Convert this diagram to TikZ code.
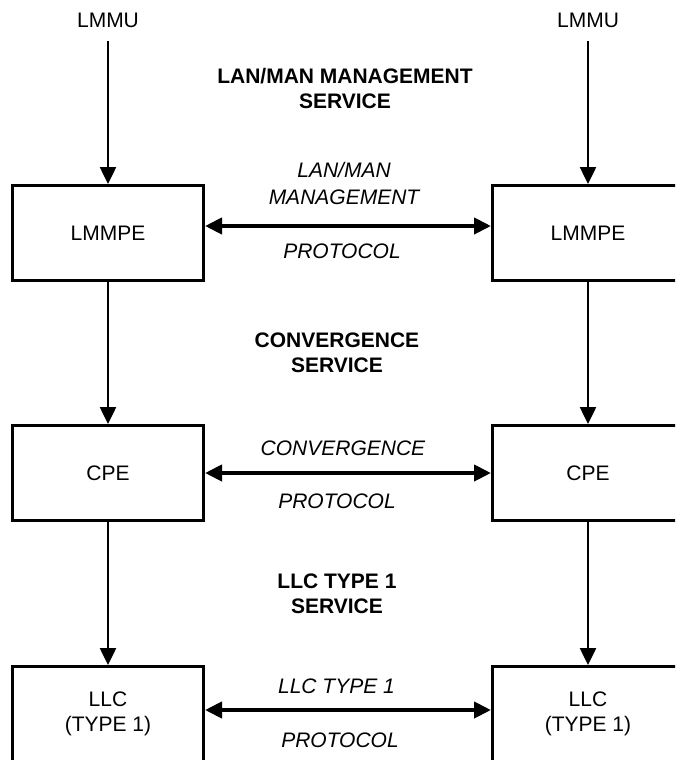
\documentclass[tikz,border=0pt]{standalone}
\usepackage{fontspec}
\setmainfont{Liberation Sans}
\usetikzlibrary{arrows.meta}

\begin{document}
\begin{tikzpicture}[x=0.75pt,y=-0.75pt,
  every node/.style={font=\fontsize{15.75}{18.75}\selectfont, align=center, inner sep=0pt},
  entity/.style={draw, line width=1.9pt, minimum width=143.6pt, minimum height=71.6pt},
  service/.style={font=\fontsize{15.75}{18.75}\selectfont\bfseries},
  proto/.style={font=\fontsize{15.75}{18.75}\selectfont\itshape},
  flow/.style={line width=1.9pt, -{Triangle[length=12.75pt,width=12pt]}},
  peer/.style={line width=3pt, {Triangle[length=12.75pt,width=12pt]}-{Triangle[length=12.75pt,width=12pt]}}]

\useasboundingbox (0,0) rectangle (675,760);
\clip (0,0) rectangle (675,760);

% service users
\node (lmmuL) at (108,20) {LMMU};
\node (lmmuR) at (588,20) {LMMU};

% protocol entities, three layers on each side
\node[entity] (lmmpeL) at (108,233) {LMMPE};
\node[entity] (lmmpeR) at (588,233) {LMMPE};
\node[entity] (cpeL) at (108,473) {CPE};
\node[entity] (cpeR) at (588,473) {CPE};
\node[entity] (llcL) at (108,714) {LLC\\(TYPE 1)};
\node[entity] (llcR) at (588,714) {LLC\\(TYPE 1)};

% service labels between layers
\node[service] (svcLmm) at (345,88.5) {LAN/MAN MANAGEMENT\\SERVICE};
\node[service] (svcConv) at (337,352.5) {CONVERGENCE\\SERVICE};
\node[service] (svcLlc) at (337,594) {LLC TYPE 1\\SERVICE};

% protocol labels on the peer links
\node[proto, font=\fontsize{15.75}{20.25}\selectfont\itshape] (prLmmA) at (344,183.5) {LAN/MAN\\MANAGEMENT};
\node[proto] (prLmmB) at (342,251) {PROTOCOL};
\node[proto] (prConvA) at (343,448) {CONVERGENCE};
\node[proto] (prConvB) at (337,501) {PROTOCOL};
\node[proto] (prLlcA) at (336.5,686) {LLC TYPE 1};
\node[proto] (prLlcB) at (340,740) {PROTOCOL};

% vertical service paths
\draw[flow, shorten <=10pt] (lmmuL.south) -- (lmmpeL.north);
\draw[flow, shorten <=10pt] (lmmuR.south) -- (lmmpeR.north);
\draw[flow] (lmmpeL.south) -- (cpeL.north);
\draw[flow] (lmmpeR.south) -- (cpeR.north);
\draw[flow] (cpeL.south) -- (llcL.north);
\draw[flow] (cpeR.south) -- (llcR.north);

% peer-to-peer protocol exchanges
\draw[peer] ([yshift=5.25pt]lmmpeL.east) -- ([yshift=5.25pt]lmmpeR.west);
\draw[peer] (cpeL.east) -- (cpeR.west);
\draw[peer] ([yshift=3pt]llcL.east) -- ([yshift=3pt]llcR.west);
\end{tikzpicture}
\end{document}
